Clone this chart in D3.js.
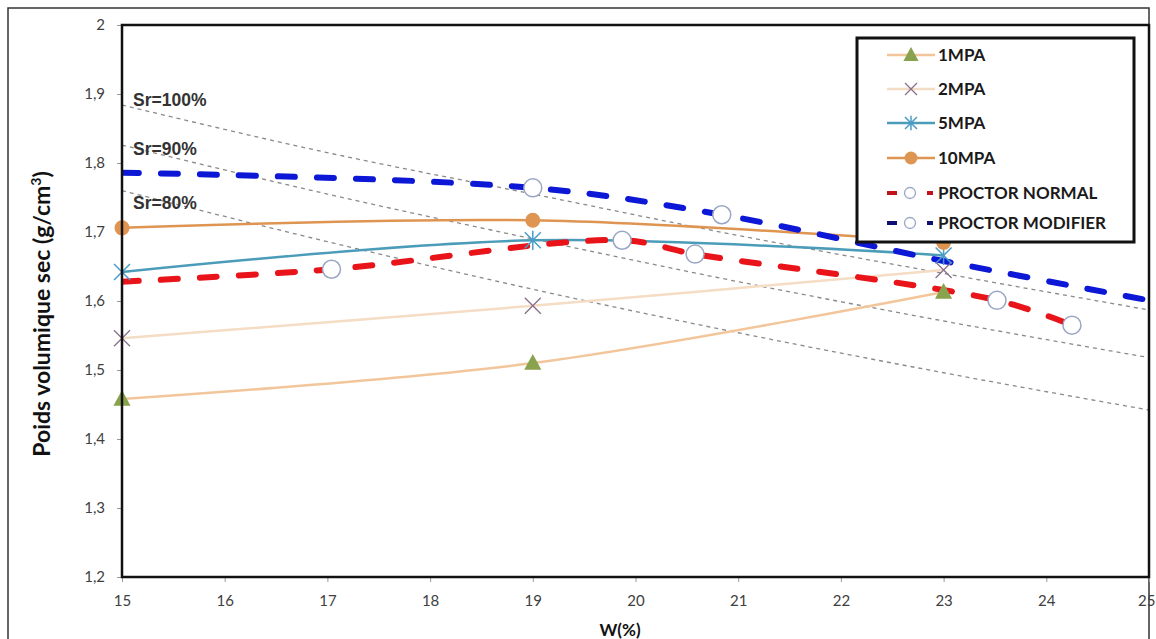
<!DOCTYPE html>
<html><head><meta charset="utf-8">
<script src="https://cdn.jsdelivr.net/npm/d3@7"></script>
<style>body{margin:0;background:#fff}svg{display:block}</style>
</head><body>
<svg id="c" width="1156" height="639"></svg>
<script>
// ---- data ----
const xTicks = [15,16,17,18,19,20,21,22,23,24,25];
const yTicks = [1.2,1.3,1.4,1.5,1.6,1.7,1.8,1.9,2.0];
const wPress = [15,19,23];
const mpa1 = [1.458,1.51,1.613];
const mpa2 = [1.546,1.593,1.645];
const mpa5 = [1.642,1.688,1.666];
const mpa10 = [1.706,1.717,1.685];
const pnW = [15,17.04,19.87,20.58,23.52,24.25];
const pnV = [1.628,1.646,1.688,1.668,1.601,1.565];
const pnMark = [false,true,true,true,true,true];
const pmW = [15,19,20.84,23,25];
const pmV = [1.786,1.764,1.725,1.658,1.601];
const pmMark = [false,true,true,false,false];
const srW = [15,17,19,21,23,25];
const sr100 = [1.884,1.815,1.755,1.695,1.640,1.587];
const sr90 = [1.826,1.755,1.690,1.628,1.571,1.518];
const sr80 = [1.760,1.686,1.617,1.554,1.496,1.442];
const srLabels = ["Sr=100%","Sr=90%","Sr=80%"];
const legendLabels = ["1MPA","2MPA","5MPA","10MPA","PROCTOR NORMAL","PROCTOR MODIFIER"];

const svg = d3.select("#c");
const x = d3.scaleLinear().domain([15,25]).range([122,1149]);
const y = d3.scaleLinear().domain([1.2,2.0]).range([577,25]);
const fmt = d => d3.format(".1f")(d).replace(".",",").replace(",0","");

// outer frame
svg.append("rect").attr("x",8).attr("y",8).attr("width",1141).attr("height",640)
  .attr("fill","none").attr("stroke","#333").attr("stroke-width",1.5);

// axes
const ax = svg.append("g").attr("transform","translate(0,577)")
  .call(d3.axisBottom(x).tickValues(xTicks).tickSize(5).tickPadding(13).tickFormat(d=>d));
const ay = svg.append("g").attr("transform","translate(122,0)")
  .call(d3.axisLeft(y).tickValues(yTicks).tickSize(5).tickPadding(12).tickFormat(d=> d===2?"2":fmt(d)));
[ax,ay].forEach(g=>{
  g.select(".domain").remove();
  g.selectAll("line").attr("stroke","#999");
  g.selectAll("text").attr("fill","#404040").style("font-family","Lato, 'Open Sans', sans-serif").style("font-size","15px");
});
ax.selectAll(".tick").filter(d=>d===25).select("text").attr("text-anchor","end").attr("dx","6");

const clip = svg.append("clipPath").attr("id","pc").append("rect")
  .attr("x",122).attr("y",25).attr("width",1027).attr("height",552);
const plot = svg.append("g").attr("clip-path","url(#pc)");

// saturation lines
const srLine = d3.line().x((d,i)=>x(srW[i])).y(d=>y(d)).curve(d3.curveMonotoneX);
[sr100,sr90,sr80].forEach(s=>{
  plot.append("path").attr("d",srLine(s)).attr("fill","none")
    .attr("stroke","#8a8a8a").attr("stroke-width",1.3).attr("stroke-dasharray","4,4");
});
const srY = [100,149,203];
srLabels.forEach((t,i)=>{
  svg.append("text").attr("x",133).attr("y",srY[i]+6).text(t)
    .attr("fill","#333").style("font-family","'Liberation Sans', Arial, sans-serif")
    .style("font-weight","bold").style("font-size","17.5px");
});

const curve = d3.curveCatmullRom.alpha(0.5);
function series(ws, vs, color, width, dash){
  const l = d3.line().x((d,i)=>x(ws[i])).y(d=>y(d)).curve(curve);
  plot.append("path").attr("d",l(vs)).attr("fill","none").attr("stroke",color)
    .attr("stroke-width",width).attr("stroke-dasharray",dash||null)
    .attr("stroke-linecap", dash ? "round" : "butt");
}
series(wPress, mpa1, "#f2c69a", 2.5);
series(wPress, mpa2, "#f5dcc4", 2.5);
series(wPress, mpa5, "#4b9cb8", 2.5);
series(wPress, mpa10, "#df9552", 2.5);
series(pnW, pnV, "#e8141a", 6, "17,22");
series(pmW, pmV, "#0c18d6", 6, "17,22");

// markers
function tri(g,cx,cy,s,c){g.append("path").attr("d",`M${cx},${cy-s}L${cx+s*0.95},${cy+s*0.75}L${cx-s*0.95},${cy+s*0.75}Z`).attr("fill",c);}
function cross(g,cx,cy,s,c){g.append("path").attr("d",`M${cx-s},${cy-s}L${cx+s},${cy+s}M${cx-s},${cy+s}L${cx+s},${cy-s}`).attr("stroke",c).attr("stroke-width",1.3);}
function star(g,cx,cy,s,c){g.append("path").attr("d",`M${cx-s},${cy-s}L${cx+s},${cy+s}M${cx-s},${cy+s}L${cx+s},${cy-s}M${cx},${cy-s*1.2}L${cx},${cy+s*1.2}`).attr("stroke",c).attr("stroke-width",1.5);}
function dot(g,cx,cy,r,c){g.append("circle").attr("cx",cx).attr("cy",cy).attr("r",r).attr("fill",c);}
function ring(g,cx,cy,r){g.append("circle").attr("cx",cx).attr("cy",cy).attr("r",r).attr("fill","#fff").attr("stroke","#9aa6c4").attr("stroke-width",1.5);}

const mk = svg.append("g");
wPress.forEach((w,i)=>{
  tri(mk, x(w), y(mpa1[i]), 9, "#88a24e");
  cross(mk, x(w), y(mpa2[i]), 8, "#8a6f8c");
  star(mk, x(w), y(mpa5[i]), 8, "#4b9cc8");
  dot(mk, x(w), y(mpa10[i]), 7.5, "#df9552");
});
pnW.forEach((w,i)=>{ if(pnMark[i]) ring(mk, x(w), y(pnV[i]), 9); });
pmW.forEach((w,i)=>{ if(pmMark[i]) ring(mk, x(w), y(pmV[i]), 9); });

// plot frame
svg.append("rect").attr("x",122).attr("y",25).attr("width",1027).attr("height",552)
  .attr("fill","none").attr("stroke","#111").attr("stroke-width",2.5);

// legend
const lg = svg.append("g");
lg.append("rect").attr("x",857).attr("y",38).attr("width",277).attr("height",204)
  .attr("fill","#fff").attr("stroke","#111").attr("stroke-width",3);
const rowY = [55,89,123,158,193,223];
const lcol = ["#f2c69a","#f5dcc4","#4b9cb8","#df9552","#e8141a","#0c18d6"];
legendLabels.forEach((t,i)=>{
  const yy = rowY[i], x0 = 887, x1 = 935, xm = (x0+x1)/2;
  if(i<4){
    lg.append("line").attr("x1",x0).attr("x2",x1).attr("y1",yy).attr("y2",yy).attr("stroke",lcol[i]).attr("stroke-width",2.5);
    if(i===0) tri(lg,xm,yy,8,"#88a24e");
    if(i===1) cross(lg,xm,yy,6,"#8a6f8c");
    if(i===2) star(lg,xm,yy,6,"#4b9cc8");
    if(i===3) dot(lg,xm,yy,6.5,"#df9552");
  } else {
    const dc = i===4 ? "#c0141a" : "#101070";
    lg.append("line").attr("x1",887).attr("x2",897).attr("y1",yy).attr("y2",yy).attr("stroke",dc).attr("stroke-width",4);
    lg.append("line").attr("x1",927).attr("x2",933).attr("y1",yy).attr("y2",yy).attr("stroke",dc).attr("stroke-width",4);
    lg.append("circle").attr("cx",910).attr("cy",yy).attr("r",5.5).attr("fill","#fff").attr("stroke","#9aa6c4").attr("stroke-width",1.3);
  }
  lg.append("text").attr("x",938).attr("y",yy+6).text(t).attr("fill","#1a1a1a")
    .style("font-family","Lato, sans-serif").style("font-weight","bold").style("font-size","17px");
});

// axis titles
svg.append("text").attr("x",620).attr("y",636).attr("text-anchor","middle").text("W(%)")
  .attr("fill","#111").style("font-family","Lato, sans-serif").style("font-weight","bold").style("font-size","17px");
const yt = svg.append("text").attr("transform","translate(50,314) rotate(-90)").attr("text-anchor","middle")
  .attr("fill","#111").style("font-family","Lato, sans-serif").style("font-weight","bold").style("font-size","23px");
yt.append("tspan").text("Poids volumique sec (g/cm");
yt.append("tspan").text("3").attr("dy",-9).style("font-size","14px");
yt.append("tspan").text(")").attr("dy",9);
</script>
</body></html>
